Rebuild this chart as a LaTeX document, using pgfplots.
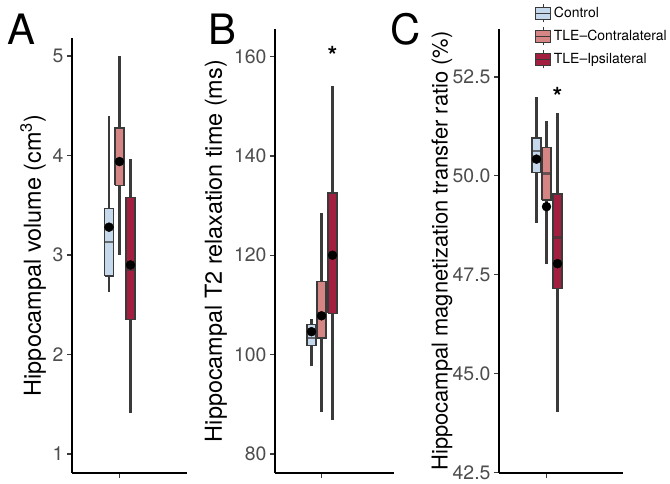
\documentclass[border=0pt]{standalone}
\usepackage{pgfplots}
\pgfplotsset{compat=1.18}
\usepackage{fontspec}
\setmainfont{TeX Gyre Heros}
\definecolor{ctrl}{HTML}{C6D8EC}
\definecolor{contra}{HTML}{D68585}
\definecolor{ipsi}{HTML}{A31F3F}
\definecolor{tickgrey}{HTML}{4D4D4D}
\definecolor{edge}{HTML}{3A3A3A}
\pgfplotsset{
  panel/.style={
    scale only axis,
    axis x line=bottom, axis y line=left,
    axis line style={-, line width=1.8bp, black},
    tick align=outside,
    major tick length=5bp,
    tick style={line width=1.4bp, color=edge},
    xticklabels={},
    ticklabel style={font=\fontsize{19.5}{22}\selectfont, text=tickgrey},
    /pgf/number format/assume math mode=true,
    clip=false,
    xmin=0,
  },
  whisk/.style={draw=edge, line width=2.05bp, mark=none},
  box/.style={fill=#1, draw=edge, line width=1.5bp, mark=none},
  med/.style={draw=edge, line width=2.2bp, opacity=0.7, mark=none},
  meanpt/.style={only marks, mark=*, mark size=4.5bp, black, mark options={fill=black, draw=black}},
  ylab/.style n args={3}{every axis y label/.style={at={(axis description cs:#1,#2)}, rotate=90, anchor=center, font=\fontsize{#3}{26}\selectfont}},
}
\begin{document}
\begin{tikzpicture}
\path[use as bounding box] (0,0) rectangle (670bp,484bp);
% Panel A
\begin{axis}[panel, at={(72bp,11.3bp)}, anchor=south west, width=115bp, height=434.4bp,
  xmax=115, ymin=0.81, ymax=5.18, ytick={1,2,3,4,5}, xtick={47.5},
  ylab={-0.339}{0.5}{23.5}, ylabel={Hippocampal volume (cm\textsuperscript{3})}]
% Control
\addplot[whisk] coordinates {(37,2.63) (37,2.79)};
\addplot[whisk] coordinates {(37,3.47) (37,4.40)};
\addplot[box=ctrl] coordinates {(32.5,2.79) (41.5,2.79) (41.5,3.47) (32.5,3.47) (32.5,2.79)};
\addplot[med] coordinates {(32.5,3.13) (41.5,3.13)};
% Contralateral
\addplot[whisk] coordinates {(47.5,3.00) (47.5,3.70)};
\addplot[whisk] coordinates {(47.5,4.28) (47.5,5.00)};
\addplot[box=contra] coordinates {(43,3.70) (52,3.70) (52,4.28) (43,4.28) (43,3.70)};
\addplot[med] coordinates {(43,3.93) (52,3.93)};
% Ipsilateral
\addplot[whisk] coordinates {(58.5,1.41) (58.5,2.35)};
\addplot[whisk] coordinates {(58.5,3.58) (58.5,3.97)};
\addplot[box=ipsi] coordinates {(54,2.35) (63,2.35) (63,3.58) (54,3.58) (54,2.35)};
\addplot[med] coordinates {(54,2.85) (63,2.85)};
\addplot[meanpt] coordinates {(37,3.28) (47.5,3.94) (58.5,2.90)};
\end{axis}
% Panel B
\begin{axis}[panel, at={(275bp,11.3bp)}, anchor=south west, width=119bp, height=443.4bp,
  xmax=119, ymin=76.2, ymax=165.5, ytick={80,100,120,140,160}, xtick={46.5},
  ylab={-0.496}{0.5}{23.5}, ylabel={Hippocampal T2 relaxation time (ms)}]
\addplot[whisk] coordinates {(36.5,97.6) (36.5,101.8)};
\addplot[whisk] coordinates {(36.5,106.0) (36.5,107.2)};
\addplot[box=ctrl] coordinates {(32,101.8) (41,101.8) (41,106.0) (32,106.0) (32,101.8)};
\addplot[med] coordinates {(32,103.4) (41,103.4)};
\addplot[whisk] coordinates {(46.5,88.5) (46.5,103.3)};
\addplot[whisk] coordinates {(46.5,114.7) (46.5,128.5)};
\addplot[box=contra] coordinates {(42,103.3) (51,103.3) (51,114.7) (42,114.7) (42,103.3)};
\addplot[med] coordinates {(42,107.6) (51,107.6)};
\addplot[whisk] coordinates {(57.5,86.8) (57.5,108.3)};
\addplot[whisk] coordinates {(57.5,132.5) (57.5,154.1)};
\addplot[box=ipsi] coordinates {(53,108.3) (62,108.3) (62,132.5) (53,132.5) (53,108.3)};
\addplot[med] coordinates {(53,120.0) (62,120.0)};
\addplot[meanpt] coordinates {(36.5,104.6) (46.5,107.8) (57.5,120.0)};
\node[font=\fontsize{25}{27}\selectfont\bfseries] at (axis cs:57.5,160.3) {*};
\end{axis}
% Panel C
\begin{axis}[panel, at={(499bp,11.3bp)}, anchor=south west, width=124bp, height=443.4bp,
  xmax=124, ymin=42.5, ymax=53.7, ytick={42.5,45,47.5,50,52.5}, xtick={47.5},
  yticklabel style={/pgf/number format/.cd, fixed, fixed zerofill, precision=1},
  ylab={-0.46}{0.5}{22}, ylabel={Hippocampal magnetization transfer ratio (\%)},
  legend style={draw=none, fill=none, at={(axis description cs:0.29,1.058)}, anchor=north west,
    font=\fontsize{14}{16}\selectfont, row sep=4bp, inner sep=0pt, nodes={inner xsep=2.5bp}},
  legend cell align=left]
\addlegendimage{legend image code/.code={\draw[edge, line width=1bp] (7.5bp,-9bp) -- (7.5bp,9bp); \draw[fill=ctrl, draw=edge, line width=1bp] (0bp,-6bp) rectangle (15bp,6bp); \draw[edge, line width=1.3bp] (0bp,0bp) -- (15bp,0bp);}}
\addlegendimage{legend image code/.code={\draw[edge, line width=1bp] (7.5bp,-9bp) -- (7.5bp,9bp); \draw[fill=contra, draw=edge, line width=1bp] (0bp,-6bp) rectangle (15bp,6bp); \draw[edge, line width=1.3bp] (0bp,0bp) -- (15bp,0bp);}}
\addlegendimage{legend image code/.code={\draw[edge, line width=1bp] (7.5bp,-9bp) -- (7.5bp,9bp); \draw[fill=ipsi, draw=edge, line width=1bp] (0bp,-6bp) rectangle (15bp,6bp); \draw[edge, line width=1.3bp] (0bp,0bp) -- (15bp,0bp);}}
\addplot[whisk] coordinates {(37.5,48.81) (37.5,50.08)};
\addplot[whisk] coordinates {(37.5,50.96) (37.5,52.0)};
\addplot[box=ctrl] coordinates {(33,50.08) (42,50.08) (42,50.96) (33,50.96) (33,50.08)};
\addplot[med] coordinates {(33,50.62) (42,50.62)};
\addplot[whisk] coordinates {(47.5,47.76) (47.5,49.39)};
\addplot[whisk] coordinates {(47.5,50.71) (47.5,51.38)};
\addplot[box=contra] coordinates {(43,49.39) (52,49.39) (52,50.71) (43,50.71) (43,49.39)};
\addplot[med] coordinates {(43,50.06) (52,50.06)};
\addplot[whisk] coordinates {(58.5,44.04) (58.5,47.15)};
\addplot[whisk] coordinates {(58.5,49.54) (58.5,51.59)};
\addplot[box=ipsi] coordinates {(54,47.15) (63,47.15) (63,49.54) (54,49.54) (54,47.15)};
\addplot[med] coordinates {(54,48.44) (63,48.44)};
\addplot[meanpt] coordinates {(37.5,50.42) (47.5,49.22) (58.5,47.78)};
\node[font=\fontsize{25}{27}\selectfont\bfseries] at (axis cs:58.5,52.0) {*};
\legend{Control,TLE--Contralateral,TLE--Ipsilateral}
\end{axis}
\node[font=\fontsize{42}{44}\selectfont] at (21bp,455bp) {A};
\node[font=\fontsize{42}{44}\selectfont] at (222bp,455bp) {B};
\node[font=\fontsize{42}{44}\selectfont] at (406bp,455bp) {C};
\end{tikzpicture}
\end{document}
